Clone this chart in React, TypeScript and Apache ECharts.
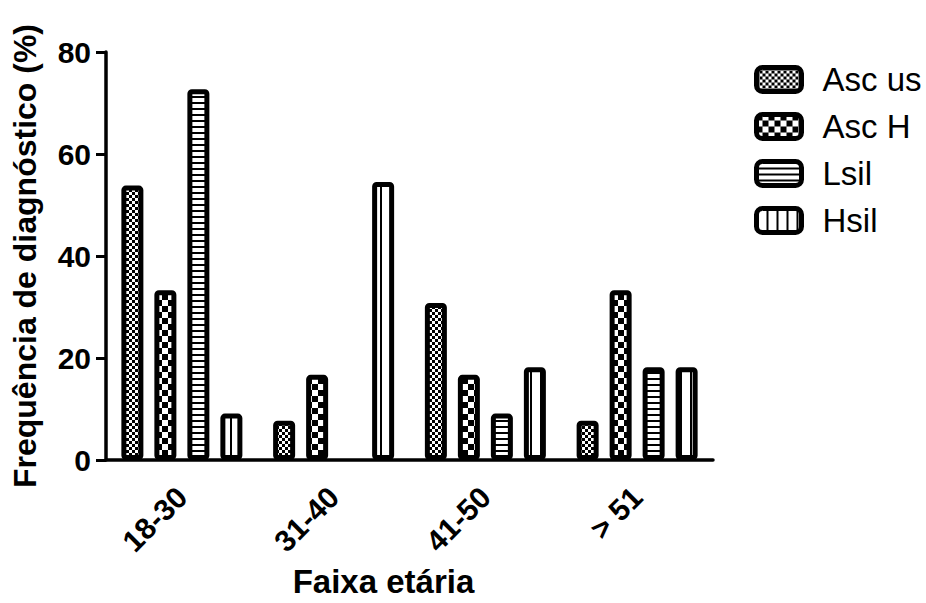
import React, { useEffect, useRef } from "react";
import * as echarts from "echarts";

const categories = ["18-30", "31-40", "41-50", "> 51"];
const seriesNames = ["Asc us", "Asc H", "Lsil", "Hsil"];
const ascUs = [53.8, 7.7, 30.8, 7.7];
const ascH = [33.3, 16.7, 16.7, 33.3];
const lsil = [72.7, 0, 9.1, 18.2];
const hsil = [9.1, 54.5, 18.2, 18.2];
const yTicks = [0, 20, 40, 60, 80];

function makePattern(kind: string) {
  const c = document.createElement("canvas");
  let w = 6, h = 6;
  if (kind === "fine") { w = 6; h = 6; }
  if (kind === "check") { w = 12; h = 12; }
  if (kind === "hlines") { w = 6; h = 6; }
  if (kind === "vlines") { w = 10; h = 6; }
  c.width = w; c.height = h;
  const ctx = c.getContext("2d")!;
  ctx.fillStyle = "#ffffff";
  ctx.fillRect(0, 0, w, h);
  ctx.fillStyle = "#000000";
  if (kind === "fine") {
    ctx.fillRect(0, 0, 3, 3);
    ctx.fillRect(3, 3, 3, 3);
  } else if (kind === "check") {
    ctx.fillRect(0, 0, 6, 6);
    ctx.fillRect(6, 6, 6, 6);
  } else if (kind === "hlines") {
    ctx.fillRect(0, 0, w, 2);
  } else if (kind === "vlines") {
    ctx.fillRect(0, 0, 2, h);
  }
  return { image: c, repeat: "repeat", imageWidth: w, imageHeight: h } as any;
}

export default function App() {
  const ref = useRef<HTMLDivElement>(null);
  useEffect(() => {
    if (!ref.current) return;
    const chart = echarts.init(ref.current, undefined, { renderer: "svg" });
    const patterns = [makePattern("fine"), makePattern("check"), makePattern("hlines"), makePattern("vlines")];
    const dataSets = [ascUs, ascH, lsil, hsil];
    const font = "Arial, 'Liberation Sans', Helvetica, sans-serif";
    chart.setOption({
      animation: false,
      backgroundColor: "#ffffff",
      textStyle: { fontFamily: font, color: "#000" },
      grid: { left: 106, right: 213, top: 52, bottom: 138, containLabel: false },
      legend: {
        orient: "vertical",
        left: 754,
        top: 63,
        padding: 0,
        itemWidth: 45,
        itemHeight: 24,
        itemGap: 14,
        icon: "roundRect",
        selectedMode: false,
        itemStyle: { borderWidth: 5, borderColor: "#000" },
        textStyle: { fontSize: 33, fontFamily: font, color: "#000", padding: [0, 0, 0, 16] },
        data: seriesNames,
      },
      xAxis: {
        type: "category",
        data: categories,
        name: "Faixa etária",
        nameLocation: "middle",
        nameGap: 105,
        nameTextStyle: { fontSize: 33, fontWeight: "bold", fontFamily: font, color: "#000", padding: [0, 52, 0, 0] },
        axisLine: { lineStyle: { color: "#000", width: 3.5 } },
        axisTick: { alignWithLabel: true, length: 11, lineStyle: { color: "#000", width: 3 } },
        axisLabel: { rotate: 45, fontSize: 30, fontWeight: "bold", color: "#000", margin: 32, fontFamily: font },
      },
      yAxis: {
        type: "value",
        min: 0,
        max: 80,
        interval: 20,
        name: "Frequência de diagnóstico (%)",
        nameLocation: "middle",
        nameGap: 65,
        nameTextStyle: { fontSize: 32, fontWeight: "bold", fontFamily: font, color: "#000" },
        axisLine: { show: true, lineStyle: { color: "#000", width: 3.5 } },
        axisTick: { show: true, length: 10, lineStyle: { color: "#000", width: 3 } },
        axisLabel: {
          fontSize: 30, fontWeight: "bold", color: "#000", margin: 15, fontFamily: font,
          formatter: (v: number) => (yTicks.includes(v) ? String(v) : ""),
        },
        splitLine: { show: false },
      },
      series: seriesNames.map((name, i) => ({
        name,
        type: "bar",
        data: dataSets[i].map((v) => (v === 0 ? { value: v, itemStyle: { borderWidth: 0 } } : v)),
        barWidth: 22,
        barGap: "50%",
        itemStyle: {
          color: patterns[i],
          borderColor: "#000",
          borderWidth: 5,
          borderRadius: 2,
        },
      })),
    });
    return () => chart.dispose();
  }, []);
  return <div ref={ref} style={{ width: 926, height: 603, position: "absolute", left: 0, top: 0 }} />;
}
